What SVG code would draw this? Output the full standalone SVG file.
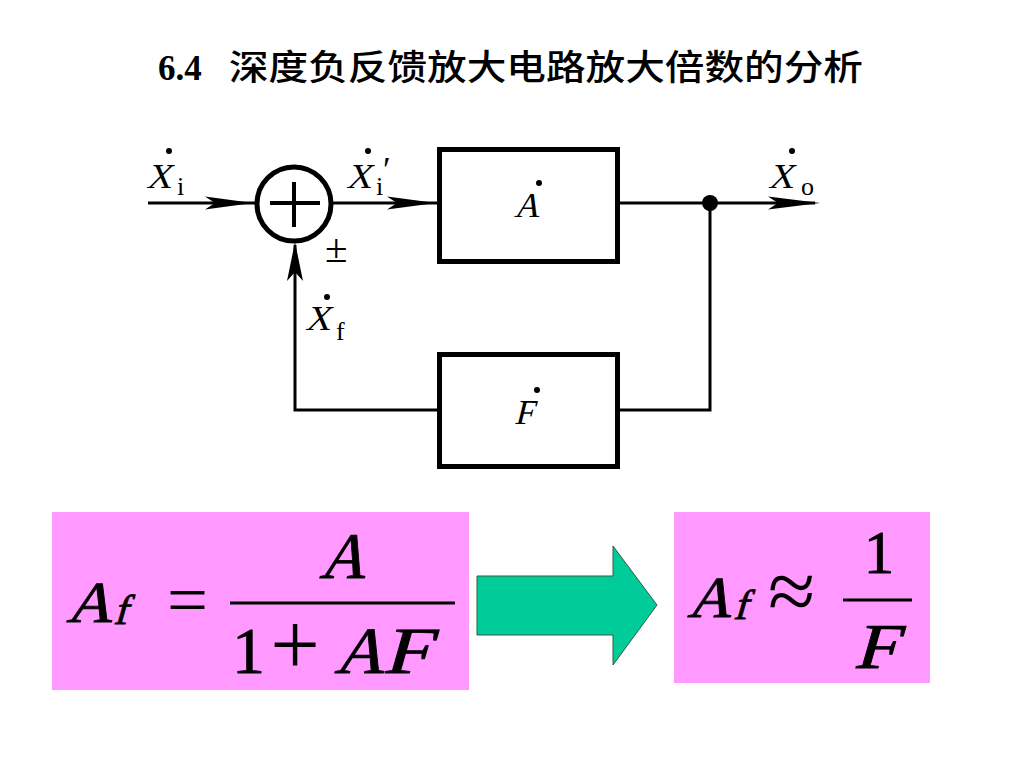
<svg xmlns="http://www.w3.org/2000/svg" width="1024" height="768" viewBox="0 0 1024 768">
<style>
.ln{stroke:#000;stroke-width:3;fill:none}
.bx{stroke:#000;stroke-width:5;fill:#fff}
.ah{fill:#000;stroke:none}
.v{font-family:"Liberation Serif","Times New Roman",serif;font-size:35px;fill:#000}
.sb{font-family:"Liberation Serif","Times New Roman",serif;font-size:26px;fill:#000}
.dt{fill:#000}
.fb{font-family:"Liberation Serif","Times New Roman",serif;fill:#000;stroke:#000;stroke-width:0.8px}
.fu{font-family:"Liberation Serif","Times New Roman",serif;fill:#000}
.pink{fill:#FF99FF}
</style>
<rect width="1024" height="768" fill="#fff"/>
<g id="title">
<text x="158" y="80" font-family="Liberation Serif,serif" font-weight="bold" font-size="35">6.4</text>
<text x="229" y="80" font-family="'Noto Sans CJK SC',sans-serif" font-size="35" font-weight="500" textLength="634" lengthAdjust="spacingAndGlyphs">深度负反馈放大电路放大倍数的分析</text>
</g>
<g id="connectors">
<line class="ln" x1="148" y1="203" x2="256" y2="203"/>
<path class="ah" d="M253,203 L205,196.5 L215,203 L205,209.5 Z"/>
<line class="ln" x1="332" y1="203" x2="437" y2="203"/>
<path class="ah" d="M436,203 L387,196.5 L397,203 L387,209.5 Z"/>
<line class="ln" x1="620" y1="203" x2="815" y2="203"/>
<path class="ah" d="M820,203 L768,196.5 L778,203 L768,209.5 Z"/>
<polyline class="ln" points="710,203 710,410 620,410"/>
<polyline class="ln" points="437,410 295,410 295,245"/>
<path class="ah" d="M295,242 L287,281 L295,272 L303,281 Z"/>
<circle cx="710" cy="203" r="8" class="dt"/>
</g>
<g id="sum">
<circle cx="294" cy="204" r="37" fill="#fff" stroke="#000" stroke-width="5"/>
<line x1="270" y1="203" x2="320" y2="203" stroke="#000" stroke-width="4"/>
<line x1="294" y1="182" x2="294" y2="227" stroke="#000" stroke-width="4"/>
<text x="325" y="262" font-family="Liberation Serif,serif" font-size="41">±</text>
</g>
<g id="boxA">
<rect class="bx" x="439.5" y="149.5" width="178" height="112"/>
<text class="v" transform="translate(514,217) skewX(-14)">A</text>
<circle class="dt" cx="539" cy="183" r="3"/>
</g>
<g id="boxF">
<rect class="bx" x="439.5" y="354.5" width="178" height="112"/>
<text class="v" transform="translate(514,424) skewX(-14)">F</text>
<circle class="dt" cx="537" cy="390" r="3"/>
</g>
<g id="labels">
<text class="v" transform="translate(146,188) skewX(-14)">X</text><circle class="dt" cx="169" cy="151" r="3"/><text class="sb" x="177" y="195">i</text>
<text class="v" transform="translate(346,188) skewX(-14)">X</text><circle class="dt" cx="368" cy="151" r="3"/><text class="sb" x="376" y="195">i</text><text class="v" x="383" y="182">′</text>
<text class="v" transform="translate(768,188) skewX(-14)">X</text><circle class="dt" cx="792" cy="151" r="3"/><text class="sb" x="801" y="195">o</text>
<text class="v" transform="translate(305,330) skewX(-14)">X</text><circle class="dt" cx="327" cy="297" r="3"/><text class="sb" x="336" y="340">f</text>
</g>
<g id="formula1">
<rect class="pink" x="52" y="512" width="417" height="178"/>
<text class="fb" font-size="58" transform="translate(66,622) skewX(-16)" textLength="46" lengthAdjust="spacingAndGlyphs">A</text>
<text class="fb" font-size="42" transform="translate(113,624) skewX(-16)">f</text>
<text class="fu" font-size="72" x="167" y="624" textLength="41" lengthAdjust="spacingAndGlyphs">=</text>
<line x1="230" y1="603" x2="455" y2="603" stroke="#000" stroke-width="3"/>
<text class="fb" font-size="65" transform="translate(319,578) skewX(-16)" textLength="46" lengthAdjust="spacingAndGlyphs">A</text>
<text class="fb" font-size="66" x="248.5" y="673" text-anchor="middle">1</text>
<text class="fu" font-size="88" x="295" y="674" text-anchor="middle">+</text>
<text class="fb" font-size="66" transform="translate(334,673) skewX(-16)" textLength="50" lengthAdjust="spacingAndGlyphs">A</text>
<text class="fb" font-size="66" transform="translate(382,673) skewX(-16)" textLength="48" lengthAdjust="spacingAndGlyphs">F</text>
</g>
<g id="arrow">
<path d="M477,576 L613,576 L613,546 L657,605 L613,665 L613,635 L477,635 Z" fill="#00CC99" stroke="#2E5E3E" stroke-width="1"/>
</g>
<g id="formula2">
<rect class="pink" x="674" y="512" width="256" height="171"/>
<text class="fb" font-size="58" transform="translate(687,617) skewX(-16)" textLength="44" lengthAdjust="spacingAndGlyphs">A</text>
<text class="fb" font-size="42" transform="translate(733,619) skewX(-16)">f</text>
<text class="fu" font-size="86" x="768" y="620">≈</text>
<line x1="843" y1="600" x2="912" y2="600" stroke="#000" stroke-width="3"/>
<text class="fb" font-size="61" x="879" y="573" text-anchor="middle">1</text>
<text class="fb" font-size="64" transform="translate(853,668) skewX(-16)" textLength="44" lengthAdjust="spacingAndGlyphs">F</text>
</g>
</svg>
